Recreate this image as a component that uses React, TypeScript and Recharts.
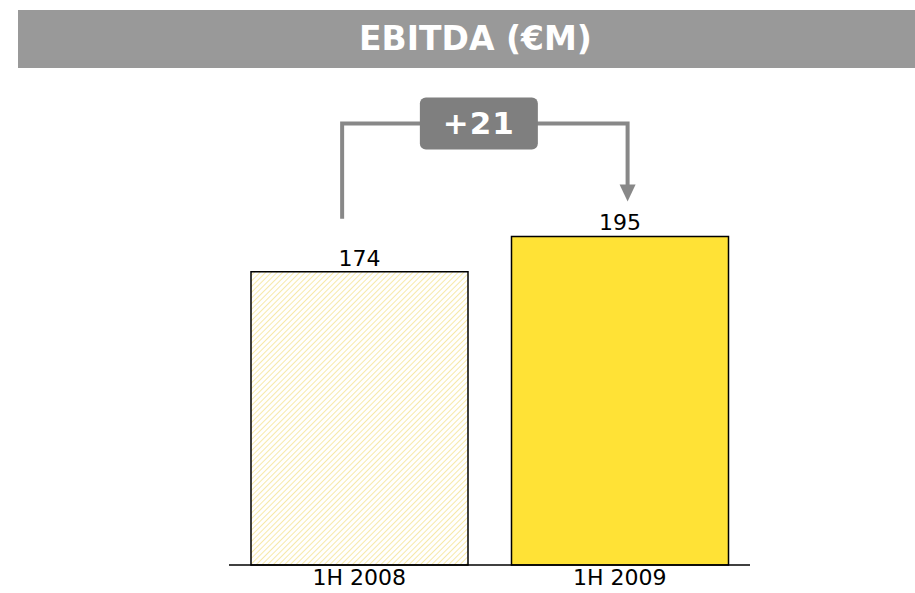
import { BarChart, Bar, XAxis, YAxis, Cell, LabelList } from "recharts"

const periods = ["1H 2008", "1H 2009"]
const ebitda = [174, 195]
const deltaLabel = "+21"

const data = periods.map((period, i) => ({ period, ebitda: ebitda[i] }))

const W = 915
const H = 593
const AXIS_H = 28
const margin = { top: 228, right: 165, bottom: 0, left: 229 }
const step = (W - margin.left - margin.right) / periods.length
const font = "'DejaVu Sans', Verdana, sans-serif"

// bracket from the first bar to the second, drawn off the second bar's label
function Bracket(props: any) {
  const { x, y, width, height, index } = props
  if (index !== 1) return null
  const zeroY = y + height
  const firstTop = zeroY - (height * ebitda[0]) / ebitda[1]
  const leftX = x - step + width * 0.42
  const rightX = x + width * 0.535
  const lineY = y - 113
  const tipY = y - 35
  const boxW = 118
  const boxH = 52
  const boxX = (leftX + rightX) / 2 - 6 - boxW / 2
  return (
    <g>
      <path
        d={`M${leftX},${firstTop - 53} V${lineY} H${rightX} V${tipY - 16}`}
        fill="none"
        stroke="#888888"
        strokeWidth={4}
      />
      <polygon points={`${rightX - 8},${tipY - 17} ${rightX + 8},${tipY - 17} ${rightX},${tipY}`} fill="#888888" />
      <rect x={boxX} y={lineY - boxH / 2} width={boxW} height={boxH} rx={6} fill="#7f7f7f" />
      <text
        x={boxX + boxW / 2}
        y={lineY + 11}
        textAnchor="middle"
        fill="#ffffff"
        fontSize={31}
        fontWeight="bold"
        fontFamily={font}
        letterSpacing={1}
      >
        {deltaLabel}
      </text>
    </g>
  )
}

export default function App() {
  return (
    <div style={{ position: "fixed", left: 0, top: 0, width: W, height: H, background: "#fff", fontFamily: font }}>
      {/* title bar */}
      <div
        style={{
          position: "absolute",
          left: 18,
          top: 10,
          width: W - 18,
          height: 58,
          background: "#999999",
          color: "#fff",
          fontWeight: "bold",
          fontSize: 33,
          lineHeight: "58px",
          textAlign: "center",
          paddingLeft: 18,
          boxSizing: "border-box",
        }}
      >
        EBITDA (€M)
      </div>

      <div style={{ position: "absolute", left: 0, top: 0 }}>
        <BarChart width={W} height={H} data={data} margin={margin} barCategoryGap={22}>
          <defs>
            <pattern id="hatch" width="4" height="4" patternUnits="userSpaceOnUse" patternTransform="rotate(45)">
              <line x1="0" y1="0" x2="0" y2="4" stroke="#f2da6e" strokeWidth={1.2} />
            </pattern>
          </defs>
          <XAxis
            dataKey="period"
            height={AXIS_H}
            axisLine={{ stroke: "#000", strokeWidth: 1.5 }}
            tickLine={false}
            tickSize={0}
            tickMargin={4}
            tick={{ fontSize: 22, fill: "#000", fontFamily: font }}
          />
          <YAxis hide domain={[0, 200]} />
          <Bar dataKey="ebitda" stroke="#000" strokeWidth={1.5} isAnimationActive={false}>
            {data.map((d, i) => (
              <Cell key={d.period} fill={i === 0 ? "url(#hatch)" : "#FFE236"} />
            ))}
            <LabelList dataKey="ebitda" position="top" offset={6} fill="#000" fontSize={22} fontFamily={font} />
            <LabelList dataKey="ebitda" content={Bracket} />
          </Bar>
        </BarChart>
      </div>
    </div>
  )
}
